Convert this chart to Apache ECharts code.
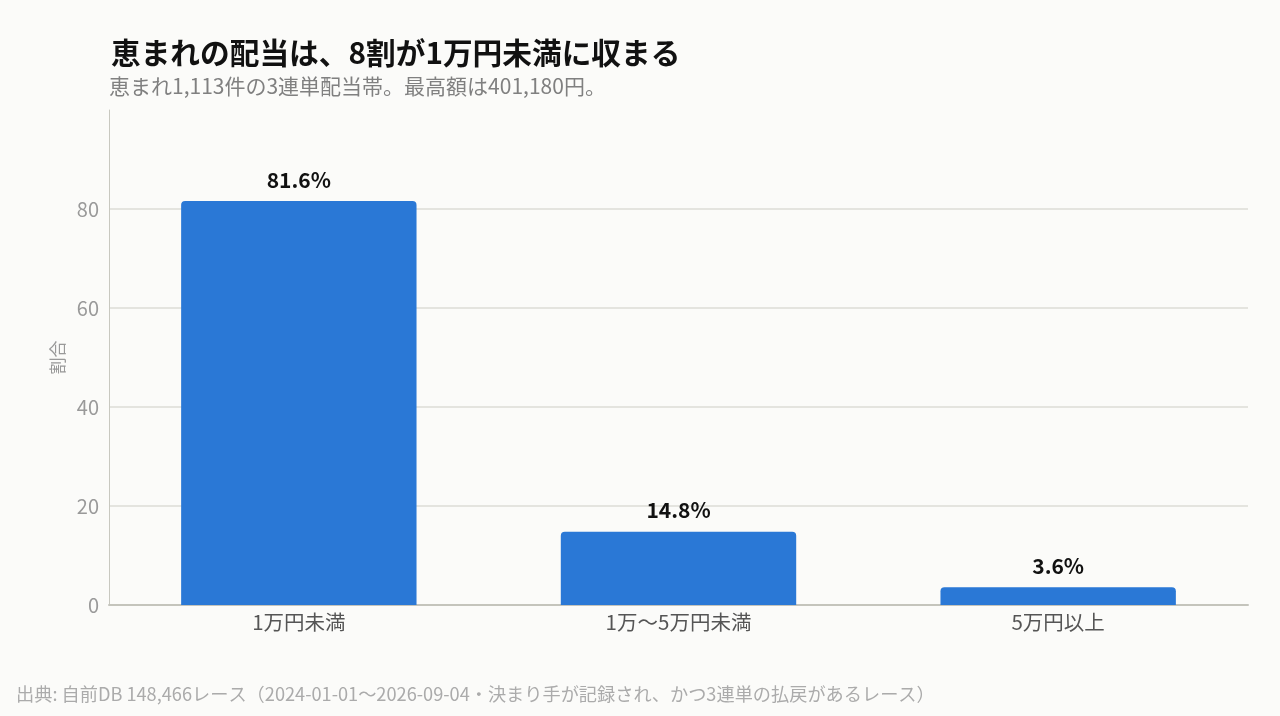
<!DOCTYPE html>
<html>
<head>
<meta charset="utf-8">
<script src="https://cdn.jsdelivr.net/npm/echarts@6/dist/echarts.min.js"></script>
<style>
  html, body { margin: 0; padding: 0; background: #fbfbf9; }
  #chart { width: 1280px; height: 716px; }
</style>
</head>
<body>
<div id="chart"></div>
<script>
const categories = ['1万円未満', '1万〜5万円未満', '5万円以上'];
const shares = [81.6, 14.8, 3.6];
const yTicks = [0, 20, 40, 60, 80];

const font = '"Noto Sans CJK JP", "Noto Sans", sans-serif';

// 図の初期化
const myChart = echarts.init(document.getElementById('chart'));

const option = {
  backgroundColor: '#fbfbf9',
  textStyle: { fontFamily: font },
  title: [
    {
      text: '恵まれの配当は、8割が1万円未満に収まる',
      left: 106,
      top: 33,
      textStyle: { fontSize: 29.7, fontWeight: 'bold', color: '#111', fontFamily: font }
    },
    {
      text: '恵まれ1,113件の3連単配当帯。最高額は401,180円。',
      left: 104,
      top: 71,
      textStyle: { fontSize: 21, fontWeight: 'normal', color: '#808080', fontFamily: font }
    },
    {
      text: '出典: 自前DB 148,466レース（2024-01-01〜2026-09-04・決まり手が記録され、かつ3連単の払戻があるレース）',
      left: 11,
      top: 680,
      textStyle: { fontSize: 18.2, fontWeight: 'normal', color: '#ababab', fontFamily: font }
    }
  ],
  grid: { left: 109, right: 32, top: 110, bottom: 111 },
  xAxis: {
    type: 'category',
    data: categories,
    axisLine: { lineStyle: { color: '#c4c4bc', width: 2 } },
    axisTick: { show: false },
    axisLabel: { fontSize: 20.5, color: '#555', margin: 7, fontFamily: font }
  },
  yAxis: {
    type: 'value',
    min: 0,
    max: 100,
    interval: 20,
    name: '割合',
    nameLocation: 'middle',
    nameGap: 42,
    nameTextStyle: { fontSize: 17, color: '#999', fontFamily: font },
    axisLine: { show: true, lineStyle: { color: '#c8c8c0', width: 1 } },
    axisTick: { show: false },
    axisLabel: {
      fontSize: 20,
      color: '#999',
      margin: 10,
      fontFamily: font,
      formatter: v => (yTicks.includes(v) ? String(v) : '')
    },
    splitLine: { lineStyle: { color: '#dddcd6', width: 1.5 }, showMaxLine: false }
  },
  series: [
    {
      type: 'bar',
      data: shares,
      barWidth: '62%',
      itemStyle: { color: '#2a78d6', borderRadius: [4, 4, 0, 0] },
      label: {
        show: true,
        position: 'top',
        distance: 11,
        formatter: p => p.value.toFixed(1) + '%',
        fontSize: 21,
        fontWeight: 'bold',
        color: '#111',
        fontFamily: font
      }
    }
  ]
};

option && myChart.setOption(option);

window.addEventListener('resize', () => {
  myChart.resize();
});
</script>
</body>
</html>
